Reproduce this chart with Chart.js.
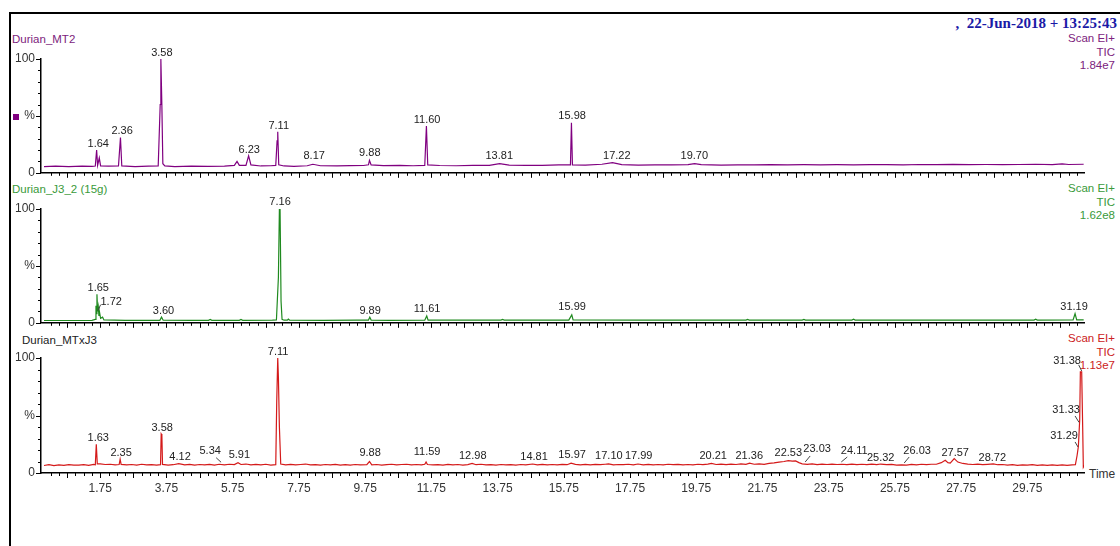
<!DOCTYPE html>
<html>
<head>
<meta charset="utf-8">
<script src="https://cdn.jsdelivr.net/npm/chart.js@4.4.0/dist/chart.umd.min.js"></script>
<style>
html, body { margin: 0; padding: 0; background: #fff; overflow: hidden; }
body { width: 1120px; height: 546px; position: relative; font-family: "Liberation Sans", Arial, sans-serif; }
.frame { position: absolute; left: 9px; top: 12px; width: 1200px; height: 600px; border: 2px solid #000; }
canvas { position: absolute; left: 0; }
.title { position: absolute; font-size: 11.5px; line-height: 14px; white-space: nowrap; }
.side { position: absolute; right: 5px; text-align: right; font-size: 11.5px; line-height: 13.5px; }
.head { position: absolute; right: 3px; top: 14px; font: bold 15px "Liberation Serif", "Times New Roman", serif; line-height: 18px; color: #1a1aa6; white-space: pre; }
</style>
</head>
<body>
<div class="frame"></div>
<div class="head">,  22-Jun-2018 + 13:25:43</div>

<div class="title" style="left:12px;top:32px;color:#7d237d">Durian_MT2</div>
<div class="side" style="top:32px;color:#7d237d">Scan EI+<br>TIC<br>1.84e7</div>
<div style="position:absolute;left:13px;top:114px;width:6px;height:6px;background:#800080"></div>

<div class="title" style="left:12px;top:182px;color:#3a9a3a">Durian_J3_2 (15g)</div>
<div class="side" style="top:182px;color:#3a9a3a">Scan EI+<br>TIC<br>1.62e8</div>

<div class="title" style="left:22px;top:333px;color:#222">Durian_MTxJ3</div>
<div class="side" style="top:332px;color:#cc2222">Scan EI+<br>TIC<br>1.13e7</div>
<div class="title" style="left:1089px;top:467px;color:#333;font-size:12px">Time</div>

<canvas id="c1" width="1120" height="156" style="top:30px"></canvas>
<canvas id="c2" width="1120" height="156" style="top:180px"></canvas>
<canvas id="c3" width="1120" height="200" style="top:329px"></canvas>

<script>
// retention time (min) vs. relative intensity (%)
const mt2Trace = [[0.05,5.5],[0.4,5.8],[0.8,5.4],[1.2,5.9],[1.5,5.6],[1.6,6],[1.64,20],[1.67,6.5],[1.72,13],[1.76,6],[2.0,5.8],[2.3,6],[2.36,31],[2.4,6],[2.8,5.5],[3.2,5.8],[3.5,6],[3.56,60],[3.58,100],[3.61,60],[3.64,8],[3.7,6],[4.0,5.4],[4.5,5.8],[5.0,5.6],[5.5,5.9],[5.8,6.5],[5.88,10],[5.95,6.5],[6.15,6.5],[6.23,15],[6.3,7],[6.6,6],[6.9,6.2],[7.05,6.5],[7.09,28],[7.11,36],[7.14,7],[7.3,6],[7.6,5.7],[8.0,6.2],[8.17,7.5],[8.4,6.2],[8.9,6],[9.3,6.3],[9.7,6.4],[9.85,7],[9.88,11],[9.93,7],[10.3,6.3],[10.8,6.5],[11.2,6.2],[11.55,6.5],[11.6,41],[11.64,7],[12.0,6.4],[12.5,6.2],[13.0,6.6],[13.5,6.5],[13.81,8],[14.1,6.8],[14.6,6.6],[15.1,6.5],[15.6,6.9],[15.95,6.9],[15.98,44],[16.01,7],[16.4,6.8],[16.9,7.5],[17.22,9],[17.5,7.2],[18,6.8],[18.5,7],[19,7],[19.5,7.2],[19.7,8],[19.9,7.2],[20.5,6.8],[21,7],[21.5,6.9],[22,7.2],[22.5,7],[23,7.1],[23.5,6.9],[24,7.1],[24.5,7],[25,7.2],[25.5,7.2],[26,7],[26.5,7.3],[27,7.2],[27.5,7.4],[28,7.2],[28.5,7.3],[29,7.2],[29.5,7.3],[30,7.5],[30.5,7.2],[30.8,7.8],[31.0,7.3],[31.45,7.5]];

const j3Trace = [[0.05,2],[1.0,2],[1.5,2.2],[1.6,3],[1.62,15],[1.64,8],[1.65,25],[1.67,10],[1.69,14],[1.71,6],[1.73,9],[1.76,4],[1.82,5],[1.86,2.5],[2.5,2.2],[3.0,2.1],[3.55,2.2],[3.6,5],[3.65,2.3],[4.5,2.1],[5.02,2.2],[5.07,3],[5.12,2.2],[5.95,2.2],[6.0,3],[6.05,2.2],[6.95,2.3],[7.07,2.5],[7.13,40],[7.16,100],[7.18,100],[7.21,19],[7.24,3],[7.3,2.3],[7.4,2.3],[7.43,3.2],[7.47,2.3],[8.5,2.2],[9.5,2.3],[9.85,2.4],[9.89,5],[9.93,2.4],[10.5,2.2],[11.55,2.3],[11.61,6],[11.65,2.4],[13.0,2.3],[13.85,2.4],[13.9,3],[13.95,2.4],[15.9,2.4],[15.99,7],[16.03,2.5],[18,2.4],[20,2.4],[21.25,2.4],[21.3,3],[21.35,2.4],[22.95,2.4],[23.0,3],[23.05,2.4],[24.45,2.4],[24.5,3.2],[24.55,2.4],[27,2.4],[29.95,2.4],[30.0,3.2],[30.05,2.4],[31.13,2.5],[31.19,8],[31.24,2.5],[31.45,2.6]];

const mtxj3Trace = [[0.05,6.5],[0.2,7.2],[0.35,6.4],[0.5,7],[0.65,6.6],[0.8,7.3],[0.95,6.8],[1.1,6.9],[1.25,7.3],[1.4,6.7],[1.55,7.5],[1.6,7.2],[1.63,25],[1.66,8],[1.75,7.9],[1.9,7.4],[2.05,7.6],[2.2,7.1],[2.32,7.4],[2.35,12],[2.38,7.5],[2.55,7],[2.7,7.4],[2.85,6.8],[3.0,7.6],[3.15,7],[3.3,7.3],[3.45,6.9],[3.57,7.2],[3.59,34],[3.61,33],[3.63,7.5],[3.8,6.8],[3.95,7.2],[4.12,8.2],[4.3,7],[4.45,7.5],[4.6,6.8],[4.75,7.4],[4.9,7],[5.05,7.5],[5.2,6.9],[5.34,7.6],[5.5,7.1],[5.65,7.6],[5.8,7.3],[5.91,9],[6.0,7.4],[6.15,7.8],[6.3,7],[6.45,7.5],[6.6,7],[6.75,7.6],[6.9,6.9],[7.05,7.3],[7.08,63],[7.11,100],[7.13,83],[7.16,40],[7.2,7.8],[7.35,7],[7.5,7.5],[7.65,7],[7.8,7.4],[7.95,7.8],[8.1,7],[8.25,7.3],[8.4,6.8],[8.55,7.4],[8.7,7],[8.85,7.5],[9.0,6.9],[9.15,7.2],[9.3,6.8],[9.45,7.4],[9.6,7.1],[9.8,7.3],[9.88,10],[9.95,7],[10.1,7.4],[10.25,6.9],[10.4,7.3],[10.55,7.6],[10.7,7],[10.85,7.4],[11.0,7.6],[11.15,7],[11.3,7.4],[11.45,7.1],[11.55,7.6],[11.59,9.5],[11.63,7.4],[11.8,7],[11.95,7.3],[12.1,6.9],[12.25,7.5],[12.4,7.1],[12.55,7.4],[12.7,6.9],[12.85,7.3],[12.98,8.3],[13.1,7.2],[13.25,7.6],[13.4,7],[13.55,7.3],[13.7,6.9],[13.85,7.4],[14.0,7],[14.15,7.3],[14.3,6.9],[14.45,7.4],[14.6,7],[14.81,7.8],[14.95,7.1],[15.1,7.5],[15.25,7],[15.4,7.4],[15.55,7.1],[15.7,7.5],[15.85,7.2],[15.97,8.6],[16.1,7.5],[16.25,7],[16.4,7.5],[16.55,7.1],[16.7,7.5],[16.85,7.2],[17.0,7.6],[17.1,7.9],[17.25,7],[17.4,7.4],[17.55,7.2],[17.7,7.6],[17.85,7],[17.99,7.8],[18.15,7.1],[18.3,7.5],[18.45,7],[18.6,7.4],[18.75,7.1],[18.9,7.6],[19.05,7.2],[19.2,7.5],[19.35,7],[19.5,7.4],[19.65,7.1],[19.8,7.6],[19.95,7.2],[20.1,7.7],[20.21,8.3],[20.35,7.4],[20.5,7.8],[20.65,7.3],[20.8,7.7],[20.95,7.4],[21.1,7.9],[21.25,7.5],[21.36,8.5],[21.5,7.6],[21.65,7.9],[21.8,7.5],[21.95,8.3],[22.1,8.8],[22.25,9.5],[22.4,10],[22.53,10.8],[22.65,10.3],[22.75,10.5],[22.85,9],[22.95,8],[23.1,7.5],[23.25,7.9],[23.4,7.3],[23.55,7.7],[23.7,7.4],[23.85,7.8],[24.0,7.4],[24.15,7.6],[24.3,7.2],[24.45,7.7],[24.6,7.3],[24.75,7.6],[24.9,7.2],[25.05,7.7],[25.2,7.3],[25.32,7.8],[25.5,7.2],[25.65,7.5],[25.8,6.8],[25.95,7.1],[26.1,6.9],[26.25,7.5],[26.4,7.1],[26.55,7.6],[26.7,7.2],[26.85,7.6],[27.0,7.6],[27.15,9],[27.27,11],[27.35,9],[27.42,8.6],[27.54,12.5],[27.65,9.5],[27.8,8.3],[27.95,7.8],[28.1,7.4],[28.25,7.7],[28.4,7.2],[28.55,7.5],[28.72,7.9],[28.85,7.2],[29.0,7.4],[29.15,6.8],[29.3,7.2],[29.45,6.7],[29.6,7.1],[29.75,6.8],[29.9,7.2],[30.05,6.7],[30.2,7],[30.35,6.6],[30.5,7.1],[30.65,6.7],[30.8,7],[30.95,6.6],[31.1,7],[31.2,7.2],[31.25,15],[31.29,23],[31.33,46],[31.35,88],[31.39,88],[31.42,40],[31.44,5],[31.47,6.5]];

// peak annotations: [text, time where text sits, % where text sits]
const mt2Labels = [['1.64',1.69,25],['2.36',2.41,36.5],['3.58',3.61,105],['6.23',6.25,20],['7.11',7.14,41],['8.17',8.21,14.5],['9.88',9.89,17],['11.60',11.62,46],['13.81',13.8,15],['15.98',16.0,50],['17.22',17.35,15],['19.70',19.69,15]];
const j3Labels = [['1.65',1.69,31],['1.72',2.08,18.5],['3.60',3.66,10.7],['7.16',7.18,106],['9.89',9.9,10.7],['11.61',11.62,12],['15.99',16.0,14],['31.19',31.16,14]];
const mtxj3Labels = [['1.63',1.69,30.7],['2.35',2.38,17.7],['3.58',3.62,39.4],['4.12',4.16,14],['5.34',5.07,19.4],['5.91',5.95,15.4],['7.11',7.12,105.5],['9.88',9.9,17],['11.59',11.62,18],['12.98',13.0,15],['14.81',14.85,14],['15.97',16.0,15.5],['17.10',17.11,15],['17.99',18.01,15],['20.21',20.26,15],['21.36',21.35,15],['22.53',22.53,17],['23.03',23.4,21],['24.11',24.52,19],['25.32',25.32,13],['26.03',26.42,19],['27.57',27.57,17],['28.72',28.69,13],['31.38',30.95,97.4],['31.33',30.92,54.8],['31.29',30.86,32]];

// leader lines from a label to its peak: [t1, %1, t2, %2]
const j3Leaders = [[1.76,15.9,1.68,10.7]];
const mtxj3Leaders = [[5.25,13.3,5.4,9.3],[23.19,14.8,23.04,9.6],[24.31,13.9,24.13,9.6],[26.18,13.9,26.03,8.7],[31.3,94,31.39,88.7],[31.19,49.6,31.31,44],[31.19,27,31.28,22.6]];

const timeTickLabels = [1.75,3.75,5.75,7.75,9.75,11.75,13.75,15.75,17.75,19.75,21.75,23.75,25.75,27.75,29.75];
const yTickLabels = [0,50,100];

Chart.defaults.font.family = '"Liberation Sans", Arial, sans-serif';
Chart.defaults.color = '#333';

const chromPlugin = {
  id: 'chrom',
  afterDraw(chart, args, opts) {
    const {ctx, chartArea: area} = chart;
    const x = chart.scales.x, y = chart.scales.y;
    ctx.save();
    ctx.strokeStyle = '#000';
    ctx.lineWidth = 1;
    ctx.beginPath();
    // time ticks every 0.25 min, long ones on x.75
    for (let k = 1; k <= 125; k++) {
      const t = k * 0.25;
      const major = (k - 3) % 4 === 0;
      const px = Math.round(x.getPixelForValue(t)) + 0.5;
      ctx.moveTo(px, area.bottom);
      ctx.lineTo(px, area.bottom + (major ? 5 : 3));
    }
    // % ticks every 10
    for (let v = 0; v <= 100; v += 10) {
      const py = Math.round(y.getPixelForValue(v)) + 0.5;
      ctx.moveTo(area.left, py);
      ctx.lineTo(area.left - (v % 50 === 0 ? 5 : 3), py);
    }
    ctx.stroke();

    ctx.strokeStyle = '#444';
    ctx.beginPath();
    for (const [t1, p1, t2, p2] of (opts.leaders || [])) {
      ctx.moveTo(x.getPixelForValue(t1), y.getPixelForValue(p1));
      ctx.lineTo(x.getPixelForValue(t2), y.getPixelForValue(p2));
    }
    ctx.stroke();

    ctx.fillStyle = '#222';
    ctx.font = '11px "Liberation Sans", Arial, sans-serif';
    ctx.textAlign = 'center';
    ctx.textBaseline = 'middle';
    for (const [text, t, p] of opts.labels) {
      ctx.fillText(text, x.getPixelForValue(t), y.getPixelForValue(p));
    }
    ctx.restore();
  }
};

function makePanel(id, trace, color, labels, leaders, showTime, axisHeight) {
  return new Chart(document.getElementById(id), {
    type: 'line',
    data: {
      datasets: [{
        data: trace,
        borderColor: color,
        borderWidth: 1.2,
        pointRadius: 0,
        tension: 0
      }]
    },
    options: {
      responsive: false,
      animation: false,
      events: [],
      layout: { padding: { top: 29, left: 0, right: 36, bottom: 0 } },
      scales: {
        x: {
          type: 'linear',
          min: -0.04,
          max: 31.46,
          grid: { display: false, drawTicks: false },
          border: { display: true, color: '#000', width: 1.5 },
          afterBuildTicks: s => { s.ticks = timeTickLabels.map(v => ({ value: v })); },
          afterFit: s => { s.height = axisHeight; },
          ticks: {
            display: showTime,
            padding: 8,
            maxRotation: 0,
            autoSkip: false,
            font: { size: 12 },
            color: '#333',
            callback: v => v.toFixed(2)
          }
        },
        y: {
          min: 0,
          max: 100,
          grid: { display: false, drawTicks: false },
          border: { display: true, color: '#000', width: 1.5 },
          afterBuildTicks: s => { s.ticks = yTickLabels.map(v => ({ value: v })); },
          afterFit: s => { s.width = 41; },
          ticks: {
            padding: 6,
            font: { size: 12 },
            color: '#333',
            callback: v => (v === 50 ? '%' : String(v))
          }
        }
      },
      plugins: {
        legend: { display: false },
        tooltip: { enabled: false },
        chrom: { labels: labels, leaders: leaders }
      }
    },
    plugins: [chromPlugin]
  });
}

makePanel('c1', mt2Trace, '#800080', mt2Labels, [], false, 12);
makePanel('c2', j3Trace, '#1f8a1f', j3Labels, j3Leaders, false, 12);
makePanel('c3', mtxj3Trace, '#d41a1a', mtxj3Labels, mtxj3Leaders, true, 56);
</script>
</body>
</html>
